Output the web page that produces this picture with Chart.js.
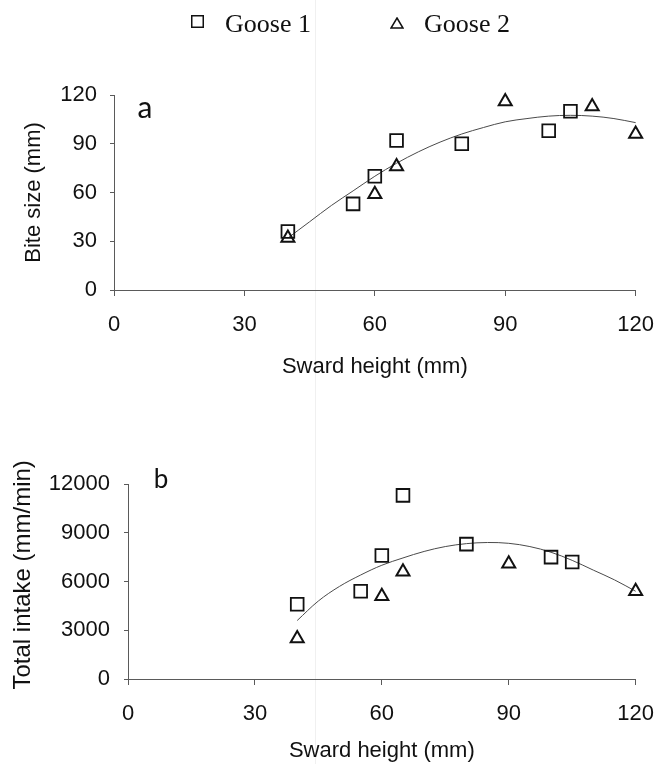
<!DOCTYPE html>
<html>
<head>
<meta charset="utf-8">
<script src="https://cdn.jsdelivr.net/npm/chart.js@4.4.1/dist/chart.umd.min.js"></script>
<style>
  html, body { margin: 0; padding: 0; background: #fff; }
  #page { position: relative; width: 670px; height: 764px; overflow: hidden; background: #fff; }
  canvas { position: absolute; left: 0; }
  #chartA { top: 0; }
  #chartB { top: 400px; }
  .leg { position: absolute; font-family: "Liberation Serif", "Times New Roman", serif; font-size: 26px; line-height: 26px; color: #111; white-space: nowrap; }
  .mark { position: absolute; }
  #scanline { position: absolute; left: 315px; top: 0; width: 1px; height: 764px; background: #f0f0f0; }
</style>
</head>
<body>
<div id="page">
  <div id="scanline"></div>
  <canvas id="chartA" width="670" height="380"></canvas>
  <canvas id="chartB" width="670" height="364"></canvas>

  <!-- legend -->
  <svg class="mark" style="left:191px;top:15px" width="13" height="13"><rect x="0.75" y="0.75" width="11.5" height="11.5" fill="none" stroke="#111" stroke-width="1.5"/></svg>
  <span class="leg" style="left:225px;top:11px">Goose 1</span>
  <svg class="mark" style="left:390px;top:17px" width="14" height="12"><polygon points="7,1 13,11 1,11" fill="none" stroke="#111" stroke-width="1.5"/></svg>
  <span class="leg" style="left:424px;top:11px">Goose 2</span>
</div>

<script>
/* ── datos ── */
var heightsG1  = [40, 55, 60, 65, 80, 100, 105];
var biteG1     = [36, 53, 70, 92, 90, 98, 110];
var intakeG1   = [4600, 5400, 7600, 11300, 8300, 7500, 7200];

var heightsG2a = [40, 60, 65, 90, 110, 120];
var biteG2     = [32, 59, 76, 116, 113, 96];
var heightsG2b = [40, 60, 65, 90, 120];
var intakeG2   = [2500, 5100, 6600, 7100, 5400];

/* curvas de tendencia (trazadas a ojo sobre la figura) */
var trendX      = [40, 45, 50, 55, 60, 65, 70, 75, 80, 85, 90, 95, 100, 105, 110, 115, 120];
var trendBite   = [32, 42, 52, 61, 70, 78, 85, 91, 96, 100, 103.5, 105.5, 107, 107.5, 107, 105.5, 103];
var trendIntake = [3600, 4800, 5700, 6400, 7000, 7450, 7850, 8150, 8330, 8400, 8350, 8150, 7800, 7300, 6700, 6100, 5400];

var xTicks    = [0, 30, 60, 90, 120];
var biteTicks = [0, 30, 60, 90, 120];
var intTicks  = [0, 3000, 6000, 9000, 12000];

var INK  = '#111';
var AXIS = '#5a5a5a';
var SANS = '"Liberation Sans", Arial, sans-serif';

function pts(xs, ys) {
  return xs.map(function(x, i) { return { x: x, y: ys[i] }; });
}

/* letra del panel (a / b) */
var panelLetter = {
  id: 'panelLetter',
  afterDraw: function(chart, args, opts) {
    var ctx = chart.ctx, area = chart.chartArea;
    ctx.save();
    ctx.font = opts.size + 'px Lato, "Noto Sans", sans-serif';
    ctx.fillStyle = INK;
    ctx.textAlign = 'center';
    ctx.textBaseline = 'alphabetic';
    ctx.fillText(opts.text, area.left + opts.dx, area.top + opts.dy);
    ctx.restore();
  }
};

function makeChart(id, cfg) {
  return new Chart(document.getElementById(id).getContext('2d'), {
    type: 'scatter',
    data: {
      datasets: [
        {
          label: 'Goose 1',
          data: pts(heightsG1, cfg.g1),
          pointStyle: 'rect',
          pointRadius: 9,
          borderColor: INK,
          backgroundColor: 'rgba(0,0,0,0)',
          borderWidth: 1.8,
          clip: false
        },
        {
          label: 'Goose 2',
          data: pts(cfg.g2x, cfg.g2),
          pointStyle: 'triangle',
          pointRadius: 7.5,
          borderColor: INK,
          backgroundColor: 'rgba(0,0,0,0)',
          borderWidth: 2,
          clip: false
        },
        {
          label: 'trend',
          data: pts(trendX, cfg.trend),
          showLine: true,
          tension: 0.35,
          pointRadius: 0,
          borderColor: '#4a4a4a',
          borderWidth: 1,
          clip: false
        }
      ]
    },
    options: {
      responsive: false,
      animation: false,
      devicePixelRatio: 1,
      layout: { padding: { left: 0, right: cfg.padRight, top: cfg.padTop, bottom: 0 } },
      plugins: {
        legend: { display: false },
        tooltip: { enabled: false },
        panelLetter: cfg.letter
      },
      scales: {
        x: {
          type: 'linear',
          min: 0, max: 120,
          afterBuildTicks: function(s) { s.ticks = xTicks.map(function(v) { return { value: v }; }); },
          afterFit: function(s) { s.height = cfg.xHeight; },
          grid: { drawOnChartArea: false, drawTicks: true, tickLength: 6, color: AXIS, lineWidth: 1 },
          border: { display: true, color: AXIS, width: 1 },
          ticks: { color: INK, padding: 16, maxRotation: 0, font: { family: SANS, size: 22 } },
          title: { display: true, text: 'Sward height (mm)', color: INK, padding: 0, font: { family: SANS, size: 22 } }
        },
        y: {
          type: 'linear',
          min: 0, max: cfg.yMax,
          afterBuildTicks: function(s) { s.ticks = cfg.yTicks.map(function(v) { return { value: v }; }); },
          afterFit: function(s) { s.width = cfg.yWidth; },
          grid: { drawOnChartArea: false, drawTicks: true, tickLength: 4, color: AXIS, lineWidth: 1 },
          border: { display: true, color: AXIS, width: 1 },
          ticks: {
            color: INK, padding: cfg.yPad, font: { family: SANS, size: 22 },
            callback: function(v) { return String(v); }
          },
          title: { display: true, text: cfg.yTitle, color: INK, padding: { top: cfg.yTitlePad, bottom: 0 }, font: { family: SANS, size: cfg.yTitleSize } }
        }
      }
    },
    plugins: [panelLetter]
  });
}

makeChart('chartA', {
  g1: biteG1, g2x: heightsG2a, g2: biteG2, trend: trendBite,
  yMax: 120, yTicks: biteTicks, yTitle: 'Bite size (mm)', yTitleSize: 22,
  padTop: 95, padRight: 21, xHeight: 90, yWidth: 114, yPad: 13, yTitlePad: 21,
  letter: { text: 'a', size: 30, dx: 31, dy: 23 }
});

makeChart('chartB', {
  g1: intakeG1, g2x: heightsG2b, g2: intakeG2, trend: trendIntake,
  yMax: 12000, yTicks: intTicks, yTitle: '  Total intake (mm/min)', yTitleSize: 24,
  padTop: 84, padRight: 33, xHeight: 85, yWidth: 128, yPad: 14, yTitlePad: 9,
  letter: { text: 'b', size: 26, dx: 33, dy: 4 }
});
</script>
</body>
</html>
